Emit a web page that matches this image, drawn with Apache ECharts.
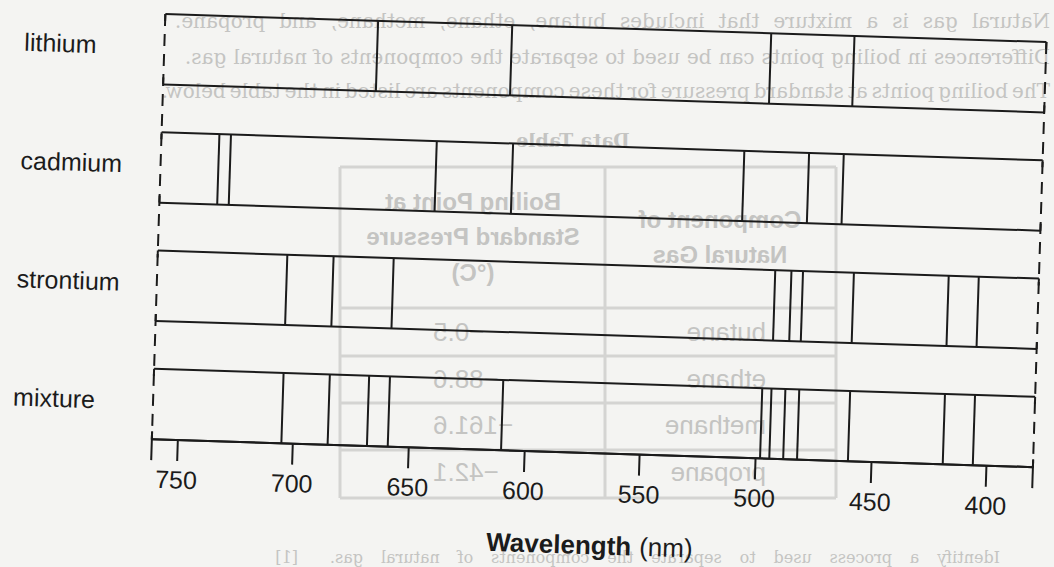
<!DOCTYPE html>
<html>
<head>
<meta charset="utf-8">
<script src="https://cdn.jsdelivr.net/npm/echarts@6/dist/echarts.min.js"></script>
<style>
  html, body { margin: 0; padding: 0; width: 1054px; height: 567px; overflow: hidden; background: #f4f4f2; }
  #paper { position: absolute; left: 0; top: 0; width: 1054px; height: 567px; }
  #chart { position: absolute; left: 0; top: 0; width: 1054px; height: 567px;
           transform: rotate(1.82deg); transform-origin: 527px 283px; }
</style>
</head>
<body>
<div id="paper"></div>
<div id="chart"></div>
<script>
// ---------------- data ----------------
const elements   = ['lithium', 'cadmium', 'strontium', 'mixture'];
const lithium    = [669, 611, 499, 463];
const cadmium    = [736, 731, 642, 609, 509, 481, 466];
const strontium  = [705, 685, 659, 494, 487, 482, 460, 419, 406];
const mixture    = [705, 685, 668, 659, 610, 498, 494, 488, 482, 460, 419, 406];
const tickValues = [750, 700, 650, 600, 550, 500, 450, 400];
const wavelengthMin = 380;
const wavelengthMax = 761;

// show-through text from the back of the scanned page
const backParagraph = [
  'Natural gas is a mixture that includes butane, ethane, methane, and propane.',
  'Differences in boiling points can be used to separate the components of natural gas.',
  'The boiling points at standard pressure for these components are listed in the table below.'
];
const backTableTitle = 'Data Table';
const backHeaderLeft = ['Boiling Point at', 'Standard Pressure', '(°C)'];
const backHeaderRight = ['Component of', 'Natural Gas'];
const backNames  = ['butane', 'ethane', 'methane', 'propane'];
const backValues = ['−0.5', '−88.6', '−161.6', '−42.1'];
const backQuestion = 'Identify a process used to separate the components of natural gas.';

// ---------------- paper (show-through, mirrored) ----------------
const FAINT = '#c4c4c2';
const FAINT_LINE = '#d4d4d2';
const paper = echarts.init(document.getElementById('paper'), null, { renderer: 'svg' });
const g = [];
function mirrorText(text, x, y, align, font, vAlign) {
  g.push({ type: 'text', x: x, y: y, scaleX: -1, silent: true,
    style: { text: text, font: font, fill: FAINT, align: align, verticalAlign: vAlign || 'middle' } });
}
const measureCtx = document.createElement('canvas').getContext('2d');
// lay mirrored words out between a right and a left edge (justified line)
function justifyMirrored(text, right, left, y, font, vAlign) {
  measureCtx.font = font;
  const words = text.split(' ');
  const widths = words.map(w => measureCtx.measureText(w).width);
  const total = widths.reduce((a, b) => a + b, 0);
  const gap = Math.max(4, (right - left - total) / (words.length - 1));
  let x = right;
  words.forEach((w, i) => { mirrorText(w, x, y, 'left', font, vAlign); x -= widths[i] + gap; });
}
const paraFont = '20px "DejaVu Serif"';
justifyMirrored(backParagraph[0], 1050, 175, 21, paraFont);
justifyMirrored(backParagraph[1], 1050, 185, 57, paraFont);
justifyMirrored(backParagraph[2], 1050, 180, 91, paraFont);
const qFont = '16px "DejaVu Serif"';
justifyMirrored(backQuestion, 1000, 330, 565, qFont, 'bottom');
mirrorText('[1]', 298, 565, 'left', qFont, 'bottom');
mirrorText(backTableTitle, 573, 140, 'center', 'bold 19px "DejaVu Serif"');
// table frame
const tL = 340, tM = 605, tR = 836, tT = 167, tB = 498;
const rowLines = [308, 356, 403, 450];
function gl(x1, y1, x2, y2) {
  g.push({ type: 'line', silent: true, shape: { x1, y1, x2, y2 }, style: { stroke: FAINT_LINE, lineWidth: 3 } });
}
gl(tL, tT, tR, tT); gl(tL, tB, tR, tB); gl(tL, tT, tL, tB); gl(tR, tT, tR, tB); gl(tM, tT, tM, tB);
rowLines.forEach(y => gl(tL, y, tR, y));
const hdrFont = 'bold 24px "Liberation Sans"';
[201, 236, 272].forEach((y, i) => mirrorText(backHeaderLeft[i], 473, y, 'center', hdrFont));
[219, 254].forEach((y, i) => mirrorText(backHeaderRight[i], 720, y, 'center', hdrFont));
const rowY = [332, 379, 425, 472];
backNames.forEach((t, i) => mirrorText(t, 766, rowY[i], 'left', '26px "Liberation Sans"'));
backValues.forEach((t, i) => mirrorText(t, 433, rowY[i], 'right', '26px "Liberation Sans"'));
paper.setOption({ animation: false, backgroundColor: '#f4f4f2', graphic: g });

// ---------------- chart ----------------
const INK = '#1b1b1b';
const BAND_PITCH = 118.4 / 70.4;          // distance between bands, in band heights
const Y_MAX = 3 * BAND_PITCH + 1;
const spectra = [lithium, cadmium, strontium, mixture];
const lineData = [];
spectra.forEach((arr, k) => arr.forEach(w => lineData.push([w, k])));

function bandY(api, k) {
  const base = (3 - k) * BAND_PITCH;
  return { top: api.coord([wavelengthMax, base + 1])[1], bottom: api.coord([wavelengthMax, base])[1] };
}
const solid = { stroke: INK, lineWidth: 2 };

function renderLine(params, api) {
  const x = api.coord([api.value(0), 0])[0];
  const b = bandY(api, api.value(1));
  return { type: 'line', shape: { x1: x, y1: b.top, x2: x, y2: b.bottom }, style: solid };
}
function renderFrame(params, api) {
  const k = api.value(0);
  const b = bandY(api, k);
  const xl = api.coord([wavelengthMax, 0])[0];
  const xr = api.coord([wavelengthMin, 0])[0];
  const hook = 7;
  return { type: 'group', children: [
    { type: 'line', shape: { x1: xl, y1: b.top, x2: xr, y2: b.top }, style: solid },
    { type: 'line', shape: { x1: xl, y1: b.bottom, x2: xr, y2: b.bottom }, style: solid },
    { type: 'line', shape: { x1: xl, y1: b.top, x2: xl, y2: b.top + hook }, style: solid },
    { type: 'line', shape: { x1: xl, y1: b.bottom, x2: xl, y2: b.bottom - hook }, style: solid },
    { type: 'line', shape: { x1: xr, y1: b.top, x2: xr, y2: b.top + hook }, style: solid },
    { type: 'line', shape: { x1: xr, y1: b.bottom, x2: xr, y2: b.bottom - hook }, style: solid },
    { type: 'text', x: params.coordSys.x - 140, y: (b.top + b.bottom) / 2 - 3,
      style: { text: elements[k], fontSize: 25, fontFamily: 'Liberation Sans', fill: INK,
               align: 'left', verticalAlign: 'middle' } }
  ] };
}
function renderEdges(params, api) {
  const top = bandY(api, 0).top;
  const axisY = api.coord([wavelengthMax, 0])[1];
  const xl = api.coord([wavelengthMax, 0])[0];
  const xr = api.coord([wavelengthMin, 0])[0];
  const dashed = { stroke: INK, lineWidth: 2, lineDash: [12, 8] };
  return { type: 'group', children: [
    { type: 'line', shape: { x1: xl, y1: top, x2: xl, y2: axisY }, style: dashed },
    { type: 'line', shape: { x1: xr, y1: top, x2: xr, y2: axisY }, style: dashed },
    { type: 'line', shape: { x1: xl, y1: axisY - 8, x2: xl, y2: axisY + 21 }, style: solid },
    { type: 'line', shape: { x1: xr, y1: axisY - 8, x2: xr, y2: axisY + 21 }, style: solid }
  ] };
}

const chart = echarts.init(document.getElementById('chart'), null, { renderer: 'svg' });
chart.setOption({
  animation: false,
  backgroundColor: 'transparent',
  grid: { left: 157, right: 15.5, top: 25.7, bottom: 116 },
  xAxis: {
    type: 'value', min: wavelengthMin, max: wavelengthMax, inverse: true,
    axisLine: { show: true, lineStyle: { color: INK, width: 2 } },
    axisTick: { show: true, customValues: tickValues, length: 21, lineStyle: { color: INK, width: 2 } },
    axisLabel: { show: true, customValues: tickValues, fontSize: 25, fontFamily: 'Liberation Sans', color: INK, margin: 27 },
    splitLine: { show: false },
    name: '{b|Wavelength}{r|(nm)}',
    nameLocation: 'middle', nameGap: 79,
    nameTextStyle: { rich: {
      b: { fontSize: 26, fontWeight: 'bold', fontFamily: 'Liberation Sans', color: INK },
      r: { fontSize: 26, fontFamily: 'Liberation Sans', color: INK, padding: [0, 0, 0, 8] }
    } }
  },
  yAxis: { type: 'value', min: 0, max: Y_MAX, show: false, splitLine: { show: false } },
  series: [
    { type: 'custom', name: 'frames', renderItem: renderFrame, silent: true,
      data: elements.map((n, k) => [k]) },
    { type: 'custom', name: 'edges', renderItem: renderEdges, silent: true, data: [[0]] },
    { type: 'custom', name: 'lines', renderItem: renderLine, silent: true,
      encode: { x: 0, y: 1 }, data: lineData }
  ]
});
</script>
</body>
</html>
